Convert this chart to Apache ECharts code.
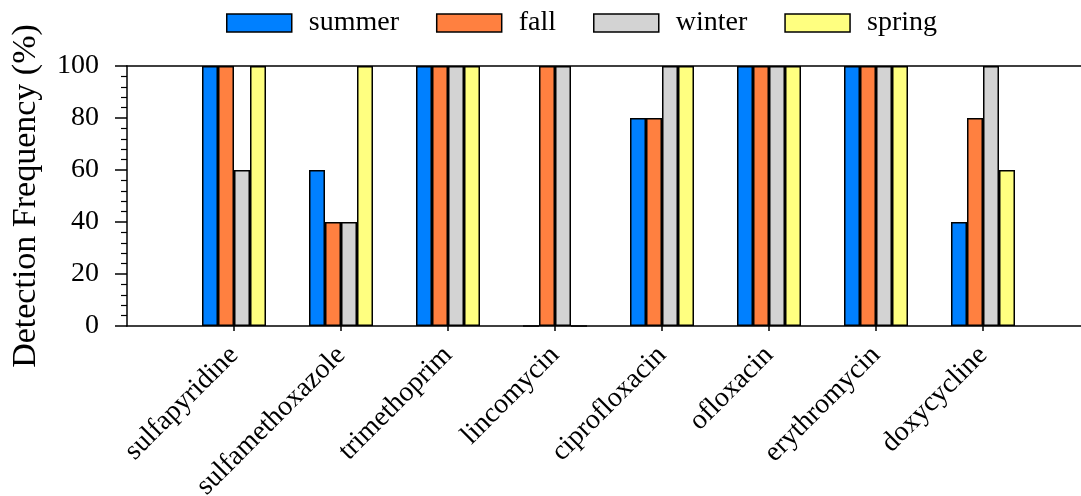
<!DOCTYPE html>
<html>
<head>
<meta charset="utf-8">
<script src="https://cdn.jsdelivr.net/npm/echarts@6/dist/echarts.min.js"></script>
<style>
  html, body { margin: 0; padding: 0; background: #fff; }
  #chart { width: 1081px; height: 496px; }
</style>
</head>
<body>
<div id="chart"></div>
<script>
// Antibiotics and their seasonal detection frequency (%)
const compounds = ['sulfapyridine', 'sulfamethoxazole', 'trimethoprim', 'lincomycin',
                   'ciprofloxacin', 'ofloxacin', 'erythromycin', 'doxycycline'];
const seasons = ['summer', 'fall', 'winter', 'spring'];
const summer = [100, 60, 100, 0, 80, 100, 100, 40];
const fall   = [100, 40, 100, 100, 80, 100, 100, 80];
const winter = [60, 40, 100, 100, 100, 100, 100, 100];
const spring = [100, 100, 100, 0, 100, 100, 100, 60];
const yTicks = [0, 20, 40, 60, 80, 100];

const seasonValues = [summer, fall, winter, spring];
const colors = ['#0080FF', '#FF8040', '#D3D3D3', '#FFFF80'];
const FONT = "'Liberation Serif', 'Times New Roman', serif";
const positions = compounds.map((_, i) => i + 1);

const chart = echarts.init(document.getElementById('chart'));

const series = seasons.map((name, s) => ({
  name: name,
  type: 'bar',
  xAxisIndex: 0,
  barWidth: 16,
  barGap: '0%',
  itemStyle: { color: colors[s], borderColor: '#000', borderWidth: 1.5 },
  data: seasonValues[s].map((v, i) => [positions[i], v])
}));

chart.setOption({
  animation: false,
  backgroundColor: '#fff',
  textStyle: { fontFamily: FONT },
  legend: {
    left: 221,
    top: 4,
    icon: 'rect',
    itemWidth: 65,
    itemHeight: 18,
    itemGap: 37,
    itemStyle: { borderColor: '#000', borderWidth: 1.5 },
    textStyle: { fontFamily: FONT, fontSize: 28, color: '#000', padding: [0, 0, 0, 12] },
    data: seasons
  },
  grid: { left: 127, right: 0, top: 66, bottom: 170, containLabel: false, outerBoundsMode: 'none' },
  xAxis: [{
    type: 'value',
    position: 'bottom',
    min: 0,
    max: 954 / 107,
    interval: 1,
    splitLine: { show: false },
    axisLine: { show: true, onZero: false, lineStyle: { color: '#000', width: 1.5 } },
    axisTick: { show: true, length: 5, customValues: positions, lineStyle: { color: '#000', width: 1.5 } },
    axisLabel: {
      show: true,
      customValues: positions,
      rotate: 45,
      margin: 25,
      fontFamily: FONT,
      fontSize: 28,
      color: '#000',
      formatter: v => compounds[Math.round(v) - 1] || ''
    }
  }, {
    type: 'value',
    position: 'top',
    min: 0,
    max: 954 / 107,
    splitLine: { show: false },
    axisLine: { show: true, onZero: false, lineStyle: { color: '#000', width: 1.5 } },
    axisTick: { show: false },
    axisLabel: { show: false }
  }],
  yAxis: {
    type: 'value',
    min: yTicks[0],
    max: yTicks[yTicks.length - 1],
    interval: 20,
    name: 'Detection Frequency (%)',
    nameLocation: 'middle',
    nameGap: 84,
    nameTextStyle: { fontFamily: FONT, fontSize: 34, color: '#000' },
    splitLine: { show: false },
    axisLine: { show: true, lineStyle: { color: '#000', width: 1.5 } },
    axisTick: { show: true, length: 12, lineStyle: { color: '#000', width: 1.5 } },
    minorTick: { show: true, splitNumber: 5, length: 6, lineStyle: { color: '#000', width: 1.2 } },
    axisLabel: { margin: 28, fontFamily: FONT, fontSize: 28, color: '#000' }
  },
  series: series
});
</script>
</body>
</html>
